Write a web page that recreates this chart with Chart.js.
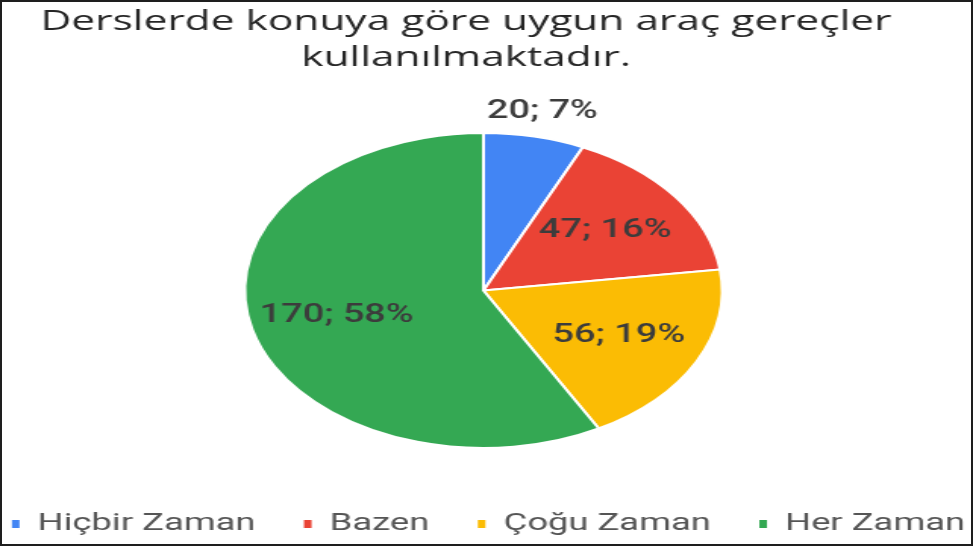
<!DOCTYPE html>
<html>
<head>
<meta charset="utf-8">
<script src="https://cdn.jsdelivr.net/npm/chart.js@4.4.1/dist/chart.umd.min.js"></script>
<style>
  html, body { margin: 0; padding: 0; background: #fff; }
  #wrap { position: relative; width: 973px; height: 546px; overflow: hidden; background: #fff; }
  #c { position: absolute; left: 0; top: 0; transform: scaleX(1.51558); transform-origin: 0 0; }
  #frame { position: absolute; left: 0; top: 0; width: 973px; height: 546px; box-sizing: border-box; border: 2px solid #1e1e1e; pointer-events: none; }
</style>
</head>
<body>
<div id="wrap">
  <canvas id="c" width="642" height="546"></canvas>
  <div id="frame"></div>
</div>
<script>
const categories = ['Hiçbir Zaman', 'Bazen', 'Çoğu Zaman', 'Her Zaman'];
const counts = [20, 47, 56, 170];
const sliceColors = ['#4285F4', '#EA4335', '#FBBC04', '#34A853'];
const titleLines = ['Derslerde konuya göre uygun araç gereçler', 'kullanılmaktadır.'];

const shiftBoxes = {
  id: 'shiftBoxes',
  afterLayout(chart) {
    const t = chart.titleBlock;
    if (t) { t.left -= 13.5; t.right -= 13.5; }
    const l = chart.legend;
    if (l) { l.left += 1.3; l.right += 1.3; }
    const a = chart.chartArea;
    if (a) { a.left -= 2; a.right -= 2; }
  }
};

const sliceLabels = {
  id: 'sliceLabels',
  afterDatasetsDraw(chart) {
    const ctx = chart.ctx;
    const meta = chart.getDatasetMeta(0);
    const values = chart.data.datasets[0].data;
    const total = values.reduce((a, b) => a + b, 0);
    ctx.save();
    ctx.font = '500 25px Roboto';
    ctx.fillStyle = '#3c3c3c';
    ctx.textAlign = 'center';
    ctx.textBaseline = 'middle';
    meta.data.forEach((arc, i) => {
      const p = arc.getProps(['x', 'y', 'startAngle', 'endAngle', 'outerRadius'], true);
      const mid = (p.startAngle + p.endAngle) / 2;
      const frac = values[i] / total;
      const k = frac < 0.1 ? 1.16 : 0.635;
      const x = p.x + Math.cos(mid) * p.outerRadius * k;
      const y = p.y + Math.sin(mid) * p.outerRadius * k;
      ctx.fillText(values[i] + '; ' + Math.round(frac * 100) + '%', x, y);
    });
    ctx.restore();
  }
};

new Chart(document.getElementById('c'), {
  type: 'pie',
  data: {
    labels: categories,
    datasets: [{
      data: counts,
      backgroundColor: sliceColors,
      borderColor: '#ffffff',
      borderWidth: 2
    }]
  },
  options: {
    responsive: false,
    animation: false,
    radius: 157.5,
    layout: { padding: { left: -60, right: -60, top: 0, bottom: 0 } },
    plugins: {
      title: {
        display: true,
        text: titleLines,
        color: '#262626',
        font: { family: '"Open Sans"', size: 28, weight: 'normal', lineHeight: 1.286 },
        padding: { top: 4, bottom: 25 }
      },
      legend: {
        position: 'bottom',
        labels: {
          boxWidth: 5,
          boxHeight: 8,
          padding: 32,
          color: '#555555',
          font: { family: 'Roboto', size: 24 },
          generateLabels(chart) {
            const items = Chart.overrides.doughnut.plugins.legend.labels.generateLabels(chart);
            return items.map(it => Object.assign(it, { lineWidth: 0, strokeStyle: 'rgba(0,0,0,0)' }));
          }
        }
      },
      tooltip: { enabled: false }
    }
  },
  plugins: [shiftBoxes, sliceLabels]
});
</script>
</body>
</html>
